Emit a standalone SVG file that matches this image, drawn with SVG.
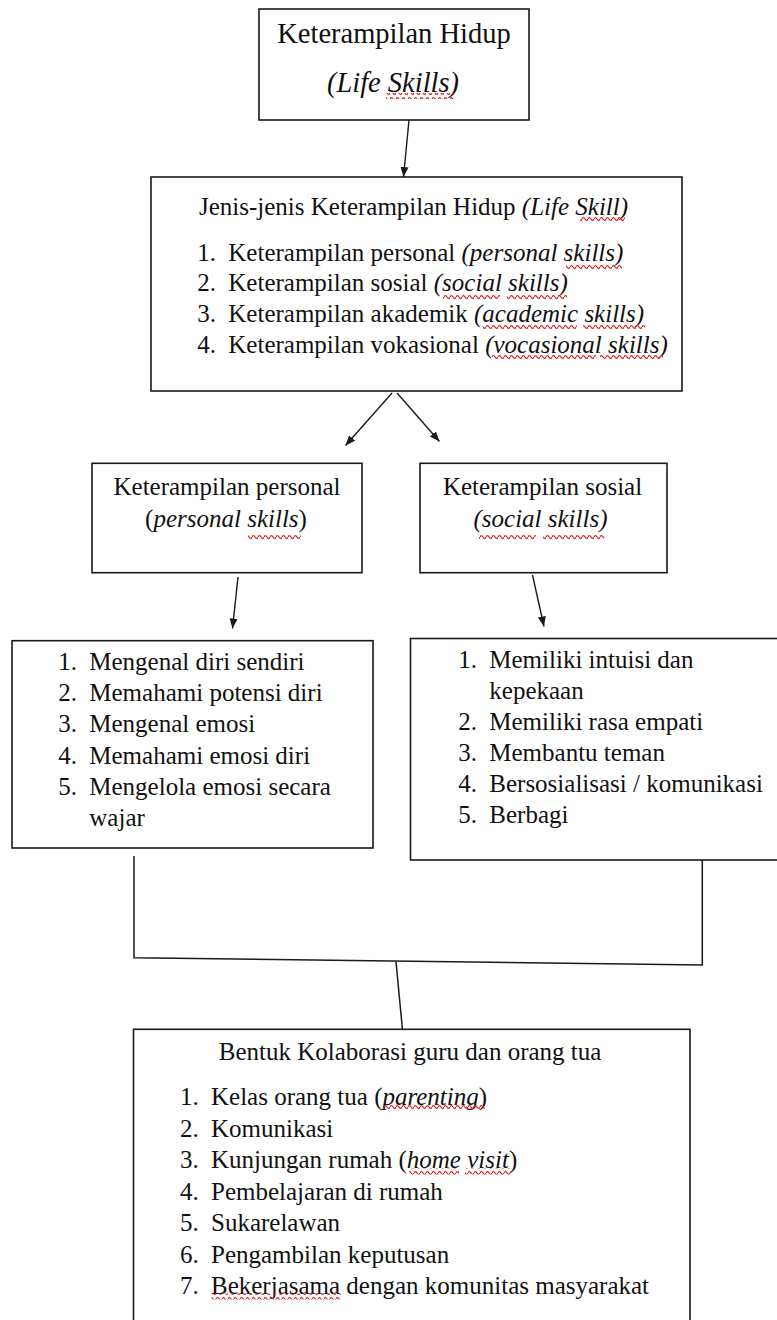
<svg xmlns="http://www.w3.org/2000/svg" width="777" height="1320" viewBox="0 0 777 1320">
<style>
  .box { fill: #ffffff; stroke: #1a1a1a; stroke-width: 1.6; }
  .t { font-family: "Liberation Serif", "Times New Roman", serif; font-size: 25px; fill: #111111; }
  .big { font-size: 28.5px; }
  .i { font-style: italic; }
  .c { text-anchor: middle; }
  .ln { fill: none; stroke: #1a1a1a; stroke-width: 1.5; }
  .ar { fill: none; stroke: #1a1a1a; stroke-width: 1.4; marker-end: url(#ah); }
  .sq { fill: url(#squig); }
</style>
<defs>
  <marker id="ah" markerUnits="userSpaceOnUse" markerWidth="10" markerHeight="10" viewBox="0 0 10 10" refX="10" refY="5" orient="auto">
    <path d="M0,1 L10,5 L0,9 Z" fill="#1a1a1a"/>
  </marker>
  <pattern id="squig" patternUnits="userSpaceOnUse" width="6" height="6">
    <path d="M0 3 Q1.5 0.3 3 3 T6 3" fill="none" stroke="#e02424" stroke-width="1.3"/>
  </pattern>
</defs>
<rect width="777" height="1320" fill="#ffffff"/>

<g id="connectors">
  <line class="ar" x1="409" y1="120" x2="403.5" y2="177"/>
  <line class="ar" x1="392" y1="393" x2="345.5" y2="445.5"/>
  <line class="ar" x1="397" y1="393" x2="439.5" y2="441.5"/>
  <line class="ar" x1="238" y1="577" x2="232.5" y2="628.5"/>
  <line class="ar" x1="532.5" y1="575" x2="544" y2="626.5"/>
  <polyline class="ln" points="134,856 134,957.7 702.3,965 702.3,860"/>
  <line class="ln" x1="396" y1="961.7" x2="402.4" y2="1029"/>
</g>

<g id="node-life-skills">
  <rect class="box" x="259" y="9" width="270" height="111"/>
  <text class="t big c" x="394" y="43">Keterampilan Hidup</text>
  <text class="t big c i" x="393" y="92">(Life Skills)</text>
  <rect class="sq" x="386" y="93" width="68" height="6"/>
</g>

<g id="node-jenis">
  <rect class="box" x="151" y="177" width="531" height="214"/>
  <text class="t" x="199" y="215">Jenis-jenis Keterampilan Hidup <tspan class="i">(Life Skill)</tspan></text>
  <text class="t" x="197.3" y="260.7">1.</text>
  <text class="t" x="228.3" y="260.7">Keterampilan personal <tspan class="i">(personal skills)</tspan></text>
  <text class="t" x="197.3" y="291.3">2.</text>
  <text class="t" x="228.3" y="291.3">Keterampilan sosial <tspan class="i">(social skills)</tspan></text>
  <text class="t" x="197.3" y="322">3.</text>
  <text class="t" x="228.3" y="322">Keterampilan akademik <tspan class="i">(academic skills)</tspan></text>
  <text class="t" x="197.3" y="352.8">4.</text>
  <text class="t" x="228.3" y="352.8">Keterampilan vokasional <tspan class="i">(vocasional skills)</tspan></text>
  <rect class="sq" x="580" y="217" width="45" height="6"/>
  <rect class="sq" x="566" y="263" width="56" height="6"/>
  <rect class="sq" x="443" y="293.5" width="57" height="6"/>
  <rect class="sq" x="507" y="293.5" width="60" height="6"/>
  <rect class="sq" x="483" y="324" width="94" height="6"/>
  <rect class="sq" x="583" y="324" width="62" height="6"/>
  <rect class="sq" x="492" y="355" width="104" height="6"/>
  <rect class="sq" x="600" y="355" width="63" height="6"/>
</g>

<g id="node-personal">
  <rect class="box" x="92" y="463.3" width="270" height="109.4"/>
  <text class="t c" x="227" y="495">Keterampilan personal</text>
  <text class="t c" x="226" y="526.7">(<tspan class="i">personal skills</tspan>)</text>
  <rect class="sq" x="248" y="533.5" width="53" height="6"/>
</g>

<g id="node-sosial">
  <rect class="box" x="420" y="463.3" width="247" height="109.4"/>
  <text class="t c" x="542.5" y="495">Keterampilan sosial</text>
  <text class="t c i" x="540.5" y="526.7">(social skills)</text>
  <rect class="sq" x="479" y="533" width="57" height="6"/>
  <rect class="sq" x="543" y="533" width="61" height="6"/>
</g>

<g id="node-personal-list">
  <rect class="box" x="12" y="640.7" width="361" height="207.3"/>
  <text class="t" x="58.3" y="670">1.</text>
  <text class="t" x="89.3" y="670">Mengenal diri sendiri</text>
  <text class="t" x="58.3" y="701.2">2.</text>
  <text class="t" x="89.3" y="701.2">Memahami potensi diri</text>
  <text class="t" x="58.3" y="732.4">3.</text>
  <text class="t" x="89.3" y="732.4">Mengenal emosi</text>
  <text class="t" x="58.3" y="763.6">4.</text>
  <text class="t" x="89.3" y="763.6">Memahami emosi diri</text>
  <text class="t" x="58.3" y="794.8">5.</text>
  <text class="t" x="89.3" y="794.8">Mengelola emosi secara</text>
  <text class="t" x="89.3" y="826">wajar</text>
</g>

<g id="node-sosial-list">
  <rect class="box" x="410.5" y="638.5" width="380" height="221.5"/>
  <text class="t" x="458.3" y="668">1.</text>
  <text class="t" x="489.3" y="668">Memiliki intuisi dan</text>
  <text class="t" x="489.3" y="699">kepekaan</text>
  <text class="t" x="458.3" y="730">2.</text>
  <text class="t" x="489.3" y="730">Memiliki rasa empati</text>
  <text class="t" x="458.3" y="761">3.</text>
  <text class="t" x="489.3" y="761">Membantu teman</text>
  <text class="t" x="458.3" y="792">4.</text>
  <text class="t" x="489.3" y="792">Bersosialisasi / komunikasi</text>
  <text class="t" x="458.3" y="823">5.</text>
  <text class="t" x="489.3" y="823">Berbagi</text>
</g>

<g id="node-kolaborasi">
  <rect class="box" x="133.5" y="1029.3" width="556.5" height="300"/>
  <text class="t" x="218.8" y="1060">Bentuk Kolaborasi guru dan orang tua</text>
  <text class="t" x="180" y="1105">1.</text>
  <text class="t" x="211" y="1105">Kelas orang tua (<tspan class="i">parenting</tspan>)</text>
  <text class="t" x="180" y="1136.5">2.</text>
  <text class="t" x="211" y="1136.5">Komunikasi</text>
  <text class="t" x="180" y="1168">3.</text>
  <text class="t" x="211" y="1168">Kunjungan rumah (<tspan class="i">home visit</tspan>)</text>
  <text class="t" x="180" y="1199.5">4.</text>
  <text class="t" x="211" y="1199.5">Pembelajaran di rumah</text>
  <text class="t" x="180" y="1231">5.</text>
  <text class="t" x="211" y="1231">Sukarelawan</text>
  <text class="t" x="180" y="1262.5">6.</text>
  <text class="t" x="211" y="1262.5">Pengambilan keputusan</text>
  <text class="t" x="180" y="1294">7.</text>
  <text class="t" x="211" y="1294">Bekerjasama dengan komunitas masyarakat</text>
  <rect class="sq" x="383" y="1105" width="102" height="6"/>
  <rect class="sq" x="409" y="1168.5" width="50" height="6"/>
  <rect class="sq" x="465" y="1168.5" width="47" height="6"/>
  <rect class="sq" x="211.6" y="1293.5" width="129" height="6"/>
</g>
</svg>
